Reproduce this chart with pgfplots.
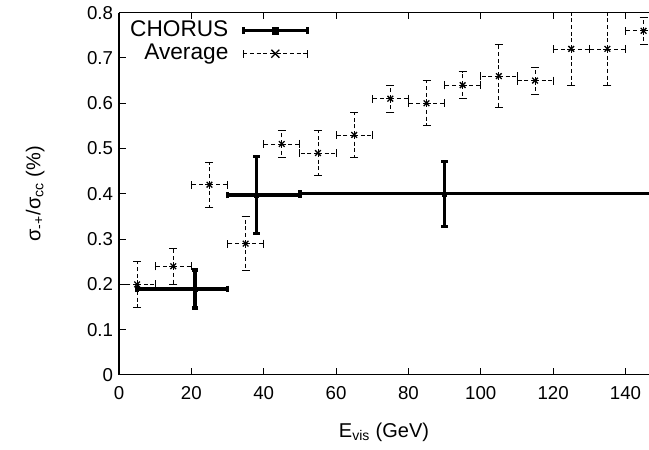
\documentclass[border=0pt]{standalone}
\usepackage{fontspec}
\setmainfont{Liberation Sans}
\usepackage{pgfplots}
\pgfplotsset{compat=1.18}
\begin{document}
\begin{tikzpicture}
\begin{axis}[
  scale only axis, width=397.5pt, height=271.7pt,
  xmin=0, xmax=146.5, ymin=0, ymax=0.8,
  axis y line*=left,
  xtick={0,20,40,60,80,100,120,140},
  ytick={0,0.1,0.2,0.3,0.4,0.5,0.6,0.7,0.8},
  yticklabels={0,0.1,0.2,0.3,0.4,0.5,0.6,0.7,0.8},
  tick align=inside, major tick length=5pt,
  tick style={line width=0.8pt, black},
  axis line style={line width=0.8pt},
  /pgf/number format/assume math mode=true,
  ticklabel style={font=\fontsize{14}{16}\selectfont},
  yticklabel style={xshift=-1pt},
  xticklabel style={yshift=-5pt},
  xlabel={E\textsubscript{vis} (GeV)},
  ylabel={σ\textsubscript{-+}/σ\textsubscript{cc} (\%)},
  label style={font=\fontsize{15}{17}\selectfont},
  xlabel style={at={(axis description cs:0.5,-0.158)}, anchor=center},
  ylabel style={at={(axis description cs:-0.158,0.5)}, anchor=center},
  legend plot pos=right, legend cell align=right,
  legend style={draw=none, fill=none, at={(axis description cs:0.018,0.984)}, anchor=north west,
    font=\fontsize{17}{19}\selectfont, row sep=-0.75pt, inner sep=0pt,
    nodes={inner sep=1pt, text height=12pt, text depth=4pt}},
]
\addplot[black, only marks, mark=square*, mark size=1.5pt,
  error bars/.cd, x dir=both, x explicit, y dir=both, y explicit,
  error bar style={line width=2.5pt},
  error mark options={rotate=90, mark size=2.5pt, line width=2.5pt},
  /pgfplots/legend image code/.code={
  \path (0pt,0pt);
  \draw[line width=2.5pt] (10pt,0pt) -- (58pt,0pt);
  \draw[line width=2.5pt] (10pt,-2.5pt) -- (10pt,2.5pt);
  \draw[line width=2.5pt] (58pt,-2.5pt) -- (58pt,2.5pt);
  \fill (31.5pt,-2.5pt) rectangle (36.5pt,2.5pt);}]
  coordinates {
  (21,0.19) += (9,0.042) -= (16,0.042)
  (38,0.397) += (12,0.085) -= (8,0.085)
  (90,0.40) += (60,0.072) -= (40,0.072)
  };
\addlegendentry{CHORUS}
\addplot[black, only marks, mark=x, mark size=3pt, mark options={line width=1pt},
  error bars/.cd, x dir=both, x explicit, y dir=both, y explicit,
  error bar style={line width=0.6pt, dash pattern=on 3pt off 2pt},
  error mark options={rotate=90, solid, mark size=3pt, line width=0.6pt},
  /pgfplots/legend image code/.code={
  \path (0pt,0pt);
  \draw[line width=0.6pt, dash pattern=on 3pt off 2pt] (10pt,0pt) -- (58pt,0pt);
  \draw[line width=0.6pt] (10pt,-3pt) -- (10pt,3pt);
  \draw[line width=0.6pt] (58pt,-3pt) -- (58pt,3pt);
  \draw[line width=1pt] (31pt,-3pt) -- (37pt,3pt) (31pt,3pt) -- (37pt,-3pt);}]
  coordinates {
  (5,0.20) +- (5,0.05)
  (15,0.24) +- (5,0.04)
  (25,0.42) +- (5,0.05)
  (35,0.29) +- (5,0.06)
  (45,0.51) +- (5,0.03)
  (55,0.49) +- (5,0.05)
  (65,0.53) +- (5,0.05)
  (75,0.61) +- (5,0.03)
  (85,0.60) +- (5,0.05)
  (95,0.64) +- (5,0.03)
  (105,0.66) +- (5,0.07)
  (115,0.65) +- (5,0.03)
  (125,0.72) +- (5,0.08)
  (135,0.72) +- (5,0.08)
  (145,0.76) +- (5,0.03)
  };
\addlegendentry{Average}
\end{axis}
\pgfresetboundingbox
\path[use as bounding box] (-89.25pt,-56.25pt) rectangle (397.5pt,281.2pt);
\end{tikzpicture}
\end{document}
